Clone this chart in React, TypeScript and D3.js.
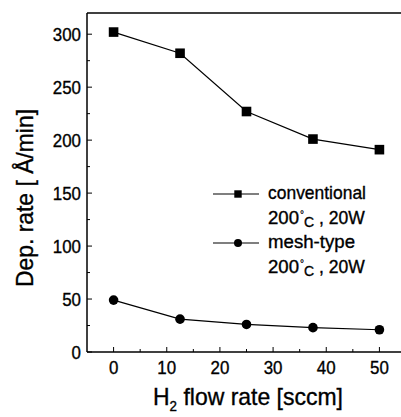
import React from "react";
import * as d3 from "d3";

const flowRates = [0, 12.5, 25, 37.5, 50];
const conventional = [302, 282, 227, 201, 191];
const meshType = [49, 31, 26, 23, 21];
const xTicks = [0, 10, 20, 30, 40, 50];
const xMinorTicks = [-5, 5, 15, 25, 35, 45, 55];
const yTicks = [0, 50, 100, 150, 200, 250, 300];
const yMinorTicks = [25, 75, 125, 175, 225, 275];
const legendItems = [
  { name: "conventional", temp: "200", rest: " , 20W", shape: "square" },
  { name: "mesh-type", temp: "200", rest: " , 20W", shape: "circle" },
];

const W = 401;
const H = 417;
const FONT = "'Liberation Sans', Arial, sans-serif";
const TXT = { fill: "#000", stroke: "#000", strokeWidth: 0.35 };

export default function App() {
  const x = d3.scaleLinear().domain([-5, 55]).range([87, 406]);
  const y = d3.scaleLinear().domain([0, 320]).range([352, 13]);
  const line = d3
    .line<number>()
    .x((_, i) => x(flowRates[i]))
    .y((d) => y(d));

  const left = 87;
  const right = W;
  const top = 13;
  const bottom = 352;
  const digitW = 9.4;

  return (
    <svg
      width={W}
      height={H}
      style={{ position: "absolute", left: 0, top: 0, background: "#fff" }}
      fontFamily={FONT}
    >
      <rect width={W} height={H} fill="#fff" />
      {/* frame */}
      <line x1={left} x2={left} y1={top} y2={bottom} stroke="#000" strokeWidth={1.5} />
      <line x1={left} x2={right} y1={bottom} y2={bottom} stroke="#000" strokeWidth={1.5} />
      <line x1={left} x2={right} y1={top} y2={top} stroke="#000" strokeWidth={1.5} />

      {/* y ticks */}
      {yTicks.map((t) => (
        <g key={"yt" + t}>
          <line x1={left} x2={left + 5} y1={y(t)} y2={y(t)} stroke="#000" strokeWidth={1} />
          <text
            x={81}
            y={y(t) + 6.5}
            textAnchor="end"
            fontSize={18.5}
            textLength={String(t).length * digitW}
            lengthAdjust="spacingAndGlyphs"
            {...TXT}
          >
            {t}
          </text>
        </g>
      ))}
      {yMinorTicks.map((t) => (
        <line key={"ym" + t} x1={left} x2={left + 3} y1={y(t)} y2={y(t)} stroke="#000" strokeWidth={1} />
      ))}

      {/* x ticks */}
      {xTicks.map((t) => (
        <g key={"xt" + t}>
          <line x1={x(t)} x2={x(t)} y1={bottom} y2={bottom - 5} stroke="#000" strokeWidth={1} />
          <text
            x={x(t)}
            y={373.5}
            textAnchor="middle"
            fontSize={18.5}
            textLength={String(t).length * digitW}
            lengthAdjust="spacingAndGlyphs"
            {...TXT}
          >
            {t}
          </text>
        </g>
      ))}
      {xMinorTicks
        .filter((t) => x(t) > left + 1 && x(t) < right)
        .map((t) => (
          <line key={"xm" + t} x1={x(t)} x2={x(t)} y1={bottom} y2={bottom - 3} stroke="#000" strokeWidth={1} />
        ))}

      {/* axis titles */}
      <text
        transform={`translate(33, 198) rotate(-90)`}
        textAnchor="middle"
        fontSize={24}
        textLength={178}
        lengthAdjust="spacingAndGlyphs"
        {...TXT}
      >
        Dep. rate [ Å/min]
      </text>
      <text x={153} y={405} fontSize={24} textLength={190} lengthAdjust="spacingAndGlyphs" {...TXT}>
        H<tspan fontSize={14} dy={6}>2</tspan>
        <tspan dy={-6}> flow rate [sccm]</tspan>
      </text>

      {/* series */}
      <path d={line(conventional) || ""} fill="none" stroke="#000" strokeWidth={1.2} />
      <path d={line(meshType) || ""} fill="none" stroke="#000" strokeWidth={1.2} />
      {conventional.map((v, i) => (
        <rect key={"s" + i} x={x(flowRates[i]) - 4.8} y={y(v) - 4.8} width={9.6} height={9.6} fill="#000" />
      ))}
      {meshType.map((v, i) => (
        <circle key={"c" + i} cx={x(flowRates[i])} cy={y(v)} r={4.8} fill="#000" />
      ))}

      {/* legend */}
      {legendItems.map((it, i) => {
        const ly = 194 + i * 49;
        const nameW = it.name === "conventional" ? 98 : 87;
        return (
          <g key={"lg" + i}>
            <line x1={213} x2={259} y1={ly} y2={ly} stroke="#000" strokeWidth={1.2} />
            {it.shape === "square" ? (
              <rect x={238 - 3.7} y={ly - 3.7} width={7.4} height={7.4} fill="#000" />
            ) : (
              <circle cx={238} cy={ly} r={4} fill="#000" />
            )}
            <text x={268} y={ly + 5} fontSize={19} textLength={nameW} lengthAdjust="spacingAndGlyphs" {...TXT}>
              {it.name}
            </text>
            <text x={268} y={ly + 30} fontSize={17.5} {...TXT}>
              <tspan textLength={31} lengthAdjust="spacingAndGlyphs">{it.temp}</tspan>
              <tspan fontSize={10} dy={-6} dx={1} strokeWidth={0.2}>°</tspan>
              <tspan fontSize={14} dy={9}>C</tspan>
              <tspan dy={-3}>{it.rest}</tspan>
            </text>
          </g>
        );
      })}
    </svg>
  );
}
